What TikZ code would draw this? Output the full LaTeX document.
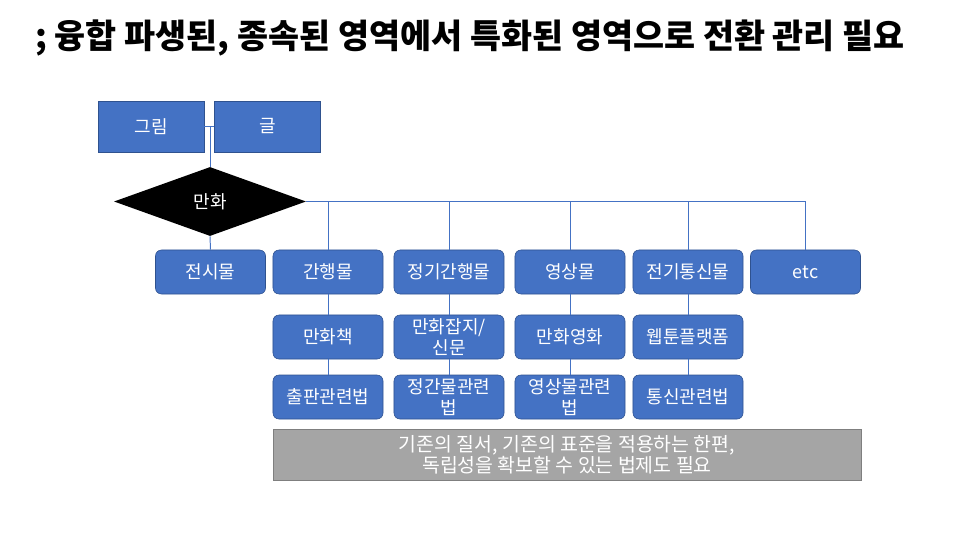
\documentclass[tikz,border=0pt]{standalone}
\usepackage{fontspec}
\setmainfont{Noto Sans CJK KR}
\usetikzlibrary{shapes.geometric}
\definecolor{boxblue}{HTML}{4472C4}
\definecolor{boxedge}{HTML}{2F528F}
\definecolor{notegray}{HTML}{A5A5A5}
\definecolor{noteedge}{HTML}{7F7F7F}

\begin{document}
\begin{tikzpicture}[x=0.025cm, y=-0.025cm,
    square/.style={draw=boxedge, fill=boxblue, text=white, minimum width=2.65cm, minimum height=1.275cm, font=\fontsize{12.8}{14}\selectfont},
    lawbox/.style={draw=boxedge, fill=boxblue, text=white, rounded corners=0.15cm, minimum width=2.75cm, minimum height=1.1cm, inner sep=0pt, align=center, font=\fontsize{12.8}{14.6}\selectfont},
    link/.style={draw=boxblue, line width=0.7pt}]
    \useasboundingbox (0,0) rectangle (960,540);
    \node at (35,38) [anchor=west, inner sep=0pt, font={\fontsize{24}{28}\selectfont\bfseries}] (title) {; 융합 파생된, 종속된 영역에서 특화된 영역으로 전환 관리 필요};

    \node at (151,126.5) [square] (geurim) {그림};
    \node at (267.5,126.5) [square] (geul) {글};
    \node at (210,201.5) [diamond, fill=black, text=white, minimum width=4.8cm, minimum height=1.725cm, inner sep=0pt, font=\fontsize{12.8}{14}\selectfont] (manhwa) {만화};

    \node at (210.5,272) [lawbox] (jeonsi) {전시물};
    \node at (328,272) [lawbox] (ganhaeng) {간행물};
    \node at (449,272) [lawbox] (jeonggi) {정기간행물};
    \node at (570,272) [lawbox] (yeongsang) {영상물};
    \node at (688,272) [lawbox] (tongsin) {전기통신물};
    \node at (805.5,272) [lawbox] (etc) {etc};

    \node at (328,337) [lawbox] (chaek) {만화책};
    \node at (449,337) [lawbox] (japji) {만화잡지/\\신문};
    \node at (570,337) [lawbox] (yeonghwa) {만화영화};
    \node at (688,337) [lawbox] (webtoon) {웹툰플랫폼};

    \node at (328,397) [lawbox] (chulpan) {출판관련법};
    \node at (449,397) [lawbox] (jeongganbeop) {정간물관련\\법};
    \node at (570,397) [lawbox] (yeongsangbeop) {영상물관련\\법};
    \node at (688,397) [lawbox] (tongsinbeop) {통신관련법};

    \node at (567,454.5) [draw=noteedge, fill=notegray, text=white, minimum width=14.7cm, minimum height=1.275cm, align=center, inner sep=1pt, font=\fontsize{13.8}{15}\selectfont] (note) {기존의 질서, 기존의 표준을 적용하는 한편,\\독립성을 확보할 수 있는 법제도 필요};

    % connectors
    \draw[link] (geurim.east) -- (geul.west);
    \draw[link] (manhwa.north |- geurim.east) -- (manhwa.north);
    \draw[link] (manhwa.south) -- (jeonsi.north);
    \draw[link] (manhwa.east) -- (etc.north |- manhwa.east) -- (etc.north);
    \draw[link] (ganhaeng.north |- manhwa.east) -- (ganhaeng.north);
    \draw[link] (jeonggi.north |- manhwa.east) -- (jeonggi.north);
    \draw[link] (yeongsang.north |- manhwa.east) -- (yeongsang.north);
    \draw[link] (tongsin.north |- manhwa.east) -- (tongsin.north);

    \draw[link] (ganhaeng.south) -- (chaek.north);
    \draw[link] (jeonggi.south) -- (japji.north);
    \draw[link] (yeongsang.south) -- (yeonghwa.north);
    \draw[link] (tongsin.south) -- (webtoon.north);
    \draw[link] (chaek.south) -- (chulpan.north);
    \draw[link] (japji.south) -- (jeongganbeop.north);
    \draw[link] (yeonghwa.south) -- (yeongsangbeop.north);
    \draw[link] (webtoon.south) -- (tongsinbeop.north);
\end{tikzpicture}
\end{document}
